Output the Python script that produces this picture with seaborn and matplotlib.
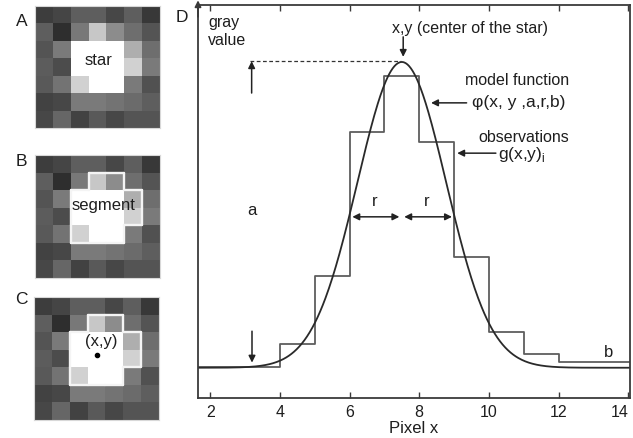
import numpy as np
import matplotlib
matplotlib.use("Agg")
import matplotlib.pyplot as plt
import seaborn as sns
from matplotlib.collections import LineCollection

# ---------------- data ----------------
# gray values of the 7x7 pixel neighbourhood (0 = black, 1 = white)
star_pixels = [
    [0.24, 0.27, 0.37, 0.37, 0.28, 0.37, 0.22],
    [0.37, 0.18, 0.47, 0.78, 0.55, 0.43, 0.33],
    [0.33, 0.48, 1.00, 1.00, 1.00, 0.68, 0.43],
    [0.36, 0.30, 1.00, 1.00, 1.00, 0.82, 0.48],
    [0.35, 0.45, 0.82, 1.00, 1.00, 0.48, 0.32],
    [0.26, 0.28, 0.48, 0.48, 0.45, 0.42, 0.37],
    [0.28, 0.40, 0.26, 0.35, 0.28, 0.33, 0.33],
]
# (row, col) cells belonging to the segment
segment_cells = [(1, 3), (1, 4), (2, 2), (2, 3), (2, 4), (2, 5),
                 (3, 2), (3, 3), (3, 4), (3, 5), (4, 2), (4, 3), (4, 4)]
star_center = (3.51, 3.30)  # (col, row) of the centre dot

# observed gray values per pixel (step function)
pixel_edges = [1, 4, 5, 6, 7, 8, 9, 10, 11, 12, 15]
observations = [8.0, 13.7, 31.0, 67.7, 81.9, 65.1, 35.9, 16.8, 11.2, 9.2]

# model function parameters
center_x = 7.5
amplitude_a = 77.8
background_b = 7.7
radius_r = 1.50          # half width at half maximum

x_ticks = [2, 4, 6, 8, 10, 12, 14]
x_label = "Pixel x"

# ---------------- style ----------------
sns.set_style("white")
plt.rcParams["font.family"] = ["Liberation Sans", "DejaVu Sans"]
TXT = "#1e1e1e"
LINE = "#3a3a3a"

W, H = 633, 438
fig = plt.figure(figsize=(W / 100, H / 100), dpi=100)


def fig_box(x0, y0, x1, y1):
    return [x0 / W, 1 - y1 / H, (x1 - x0) / W, (y1 - y0) / H]


def outline(ax, cells):
    cs = set(cells)
    segs = []
    for (r, c) in cells:
        if (r - 1, c) not in cs:
            segs.append([(c, r), (c + 1, r)])
        if (r + 1, c) not in cs:
            segs.append([(c, r + 1), (c + 1, r + 1)])
        if (r, c - 1) not in cs:
            segs.append([(c, r), (c, r + 1)])
        if (r, c + 1) not in cs:
            segs.append([(c + 1, r), (c + 1, r + 1)])
    ax.add_collection(LineCollection(segs, colors="#f4f4f4", linewidths=1.7,
                                     capstyle="round"))


grid = np.array(star_pixels)
boxes = [fig_box(35, 6, 160, 128), fig_box(35, 155, 160, 278), fig_box(34, 297, 159, 420)]
letters = [("A", 22, 21), ("B", 21, 161), ("C", 21, 300)]
for i, box in enumerate(boxes):
    ax = fig.add_axes(box)
    sns.heatmap(grid, cmap="gray", vmin=0, vmax=1, cbar=False, ax=ax,
                xticklabels=False, yticklabels=False)
    ax.tick_params(left=False, bottom=False)
    for s in ax.spines.values():
        s.set_visible(True)
        s.set_color("#d8d8d8")
        s.set_linewidth(0.8)
    if i == 0:
        ax.text(3.55, 3.1, "star", ha="center", va="center", fontsize=12, color=TXT)
    elif i == 1:
        outline(ax, segment_cells)
        ax.text(3.83, 2.85, "segment", ha="center", va="center", fontsize=12, color=TXT)
    else:
        outline(ax, segment_cells)
        ax.text(3.79, 2.55, "(x,y)", ha="center", va="center", fontsize=12, color=TXT)
        ax.plot([star_center[0]], [star_center[1]], "o", color="black", ms=3)
    lab, lx, ly = letters[i]
    fig.text(lx / W, 1 - ly / H, lab, ha="center", va="center", fontsize=12.5, color=TXT)

fig.text(182 / W, 1 - 17 / H, "D", ha="center", va="center", fontsize=12.5, color=TXT)

# ---------------- panel D ----------------
axD = fig.add_axes(fig_box(198, 5, 630, 398))
sns.lineplot(x=pixel_edges, y=observations + [observations[-1]], drawstyle="steps-post",
             color="#5e5e5e", lw=1.3, ax=axD, estimator=None, sort=False)
xs = np.linspace(1.6, 14.1, 500)
sigma = radius_r / np.sqrt(2 * np.log(2))
ys = background_b + amplitude_a * np.exp(-(xs - center_x) ** 2 / (2 * sigma ** 2))
sns.lineplot(x=xs, y=ys, color="#2a2a2a", lw=1.3, ax=axD, estimator=None, sort=False)

axD.set_xlim(1.65, 14.05)
axD.set_ylim(0, 100)
axD.set_xticks(x_ticks)
axD.set_xticklabels([str(t) for t in x_ticks])
axD.set_yticks([])
axD.tick_params(axis="x", direction="in", top=True, bottom=True, length=4, width=1,
                labelsize=11.5, pad=5, colors=LINE, labelcolor=TXT)
labels = axD.get_xticklabels()
labels[-1].set_ha("right")
labels[-1].set_x(14.0)
axD.set_xlabel(x_label, fontsize=12, color=TXT, labelpad=1)
axD.set_ylabel("")
for s in axD.spines.values():
    s.set_visible(True)
    s.set_color(LINE)
    s.set_linewidth(1.3)

arrow = dict(arrowstyle="-|>", color="#222222", lw=1.1, mutation_scale=10, shrinkA=0, shrinkB=0)
both = dict(arrowstyle="<|-|>", color="#222222", lw=1.1, mutation_scale=10, shrinkA=0, shrinkB=0)

# y-axis arrow head
axD.annotate("", xy=(0, 1.012), xytext=(0, 0.97), xycoords="axes fraction",
             arrowprops=dict(arrowstyle="-|>", color=LINE, lw=1.3, mutation_scale=9,
                             shrinkA=0, shrinkB=0), annotation_clip=False)

peak = background_b + amplitude_a
axD.text(1.96, 94.4, "gray", ha="left", va="baseline", fontsize=11.5, color=TXT)
axD.text(1.94, 89.8, "value", ha="left", va="baseline", fontsize=11.5, color=TXT)

axD.plot([3.14, 7.49], [peak + 0.3, peak + 0.3], ls=(0, (3, 2)), color="#333333", lw=0.9)
axD.annotate("", xy=(3.19, peak + 0.2), xytext=(3.19, 77.6), arrowprops=arrow)
axD.annotate("", xy=(3.2, 9.0), xytext=(3.2, 17.0), arrowprops=arrow)
axD.text(3.2, 47.6, "a", ha="center", va="center", fontsize=12, color=TXT)

axD.text(7.23, 93.0, "x,y (center of the star)", ha="left", va="baseline",
         fontsize=11.5, color=TXT)
axD.annotate("", xy=(7.54, 86.8), xytext=(7.54, 91.9), arrowprops=arrow)

axD.text(10.8, 80.7, "model function", ha="center", va="center", fontsize=11.5, color=TXT)
axD.text(10.86, 75.1, "φ(x, y ,a,r,b)", ha="center", va="center", fontsize=12.5, color=TXT)
axD.annotate("", xy=(8.34, 75.1), xytext=(9.36, 75.1), arrowprops=arrow)

axD.text(11.0, 66.2, "observations", ha="center", va="center", fontsize=11.5, color=TXT)
axD.text(10.26, 62.0, r"g(x,y)$_\mathregular{i}$", ha="left", va="center",
         fontsize=12.5, color=TXT)
axD.annotate("", xy=(9.09, 62.3), xytext=(10.2, 62.3), arrowprops=arrow)

axD.annotate("", xy=(6.08, 46.1), xytext=(7.43, 46.1), arrowprops=both)
axD.annotate("", xy=(7.57, 46.1), xytext=(8.94, 46.1), arrowprops=both)
axD.text(6.71, 49.9, "r", ha="center", va="center", fontsize=12, color=TXT)
axD.text(8.2, 49.9, "r", ha="center", va="center", fontsize=12, color=TXT)

axD.text(13.43, 11.7, "b", ha="center", va="center", fontsize=12, color=TXT)

fig.savefig("out.png", dpi=100)
